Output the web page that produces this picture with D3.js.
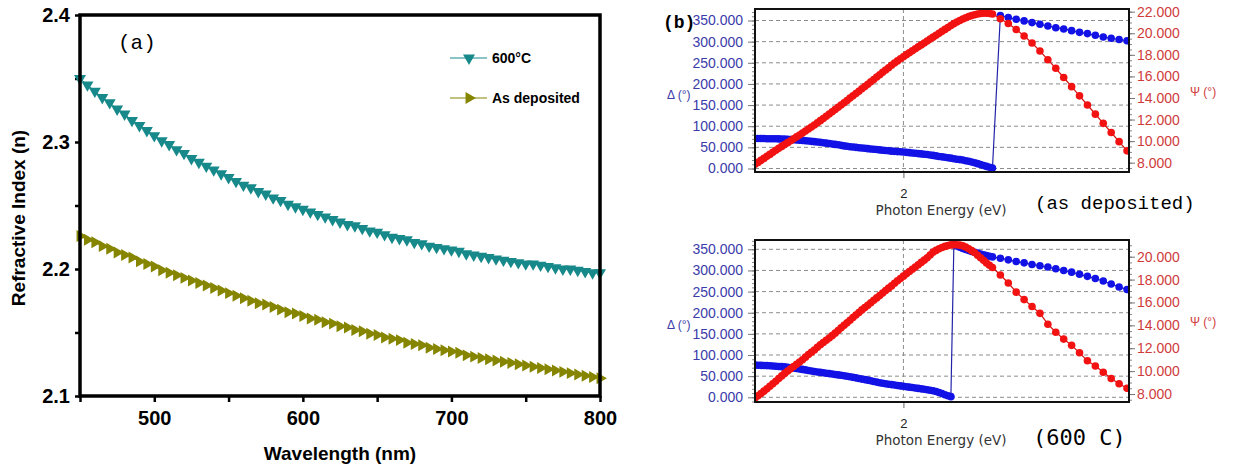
<!DOCTYPE html>
<html>
<head>
<meta charset="utf-8">
<title>Refractive index and ellipsometric spectra</title>
<script src="https://cdn.jsdelivr.net/npm/d3@7/dist/d3.min.js"></script>
<style>
  body { margin: 0; background: #fff; }
  svg { display: block; }
</style>
</head>
<body>
<svg id="figure" width="1233" height="469"></svg>
<script>
// ---- panel (a): refractive index vs wavelength
const wavelength = [450, 455, 460, 465, 470, 475, 480, 485, 490, 495,
    500, 505, 510, 515, 520, 525, 530, 535, 540, 545,
    550, 555, 560, 565, 570, 575, 580, 585, 590, 595,
    600, 605, 610, 615, 620, 625, 630, 635, 640, 645,
    650, 655, 660, 665, 670, 675, 680, 685, 690, 695,
    700, 705, 710, 715, 720, 725, 730, 735, 740, 745,
    750, 755, 760, 765, 770, 775, 780, 785, 790, 795, 800];
const n600 = [2.350, 2.345, 2.340, 2.335, 2.331, 2.326, 2.322, 2.317, 2.313, 2.309,
    2.305, 2.301, 2.298, 2.294, 2.291, 2.287, 2.284, 2.281, 2.278, 2.275,
    2.272, 2.269, 2.266, 2.264, 2.261, 2.259, 2.256, 2.254, 2.251, 2.249,
    2.247, 2.245, 2.243, 2.241, 2.239, 2.237, 2.235, 2.234, 2.232, 2.230,
    2.229, 2.227, 2.225, 2.224, 2.223, 2.221, 2.220, 2.218, 2.217, 2.216,
    2.215, 2.214, 2.212, 2.211, 2.210, 2.209, 2.208, 2.207, 2.206, 2.205,
    2.204, 2.204, 2.203, 2.202, 2.201, 2.200, 2.200, 2.199, 2.198, 2.197, 2.197];
const nAsDeposited = [2.226, 2.223, 2.221, 2.218, 2.216, 2.213, 2.211, 2.209, 2.206, 2.204,
    2.202, 2.199, 2.197, 2.195, 2.193, 2.191, 2.189, 2.187, 2.185, 2.183,
    2.181, 2.179, 2.177, 2.175, 2.173, 2.172, 2.170, 2.168, 2.166, 2.165,
    2.163, 2.161, 2.160, 2.158, 2.157, 2.155, 2.154, 2.152, 2.151, 2.149,
    2.148, 2.146, 2.145, 2.144, 2.142, 2.141, 2.140, 2.138, 2.137, 2.136,
    2.135, 2.134, 2.132, 2.131, 2.130, 2.129, 2.128, 2.127, 2.126, 2.125,
    2.124, 2.123, 2.122, 2.121, 2.120, 2.119, 2.118, 2.117, 2.116, 2.115, 2.114];
const wavelengthTicks = [450, 500, 550, 600, 650, 700, 750, 800];
const indexTicks = [2.1, 2.15, 2.2, 2.25, 2.3, 2.35, 2.4];

// ---- panel (b): ellipsometric angles vs photon energy
const energy = [1.250, 1.265, 1.280, 1.295, 1.310, 1.325, 1.340, 1.355, 1.370, 1.385,
    1.400, 1.415, 1.430, 1.445, 1.460, 1.475, 1.490, 1.505, 1.520, 1.535,
    1.550, 1.565, 1.580, 1.595, 1.610, 1.625, 1.640, 1.655, 1.670, 1.685,
    1.700, 1.715, 1.730, 1.745, 1.760, 1.775, 1.790, 1.805, 1.820, 1.835,
    1.850, 1.865, 1.880, 1.895, 1.910, 1.925, 1.940, 1.955, 1.970, 1.985,
    2.000, 2.015, 2.030, 2.045, 2.060, 2.075, 2.090, 2.105, 2.120, 2.135,
    2.150, 2.165, 2.180, 2.195, 2.210, 2.225, 2.240, 2.255, 2.270, 2.285,
    2.300, 2.315, 2.330, 2.345, 2.360, 2.375, 2.390, 2.405, 2.420, 2.435, 2.450,
    2.49, 2.53, 2.57, 2.61, 2.65, 2.69, 2.73, 2.77, 2.81, 2.85,
    2.89, 2.93, 2.97, 3.01, 3.05, 3.09, 3.13];
const deltaAsDeposited = [71, 71, 71, 70.8, 70.5, 70.5, 70.5, 70.2, 70, 69.8,
    69.5, 69, 68.5, 68, 67.5, 67, 66.5, 65.8, 65, 64.2,
    63.5, 62.8, 62, 61, 60, 59, 58, 57, 56, 54.8,
    53.5, 52.5, 51.5, 50.8, 50, 49.2, 48.5, 47.8, 47, 46.2,
    45.5, 44.8, 44, 43.2, 42.5, 41.8, 41, 40.5, 40, 39.5,
    39, 38.2, 37.5, 36.8, 36, 35.2, 34.5, 33.8, 33, 32,
    31, 29.8, 28.5, 27.5, 26.5, 25.5, 24.5, 23.2, 22, 21,
    20, 18.5, 17, 15.2, 13.5, 11.5, 9.5, 7.2, 5, 3, 1,
    362, 357, 353, 349, 345, 341, 337, 333, 330, 326,
    322, 319, 315, 311, 308, 305, 302];
const psiAsDeposited = [7.85, 8.03, 8.22, 8.40, 8.59, 8.77, 8.96, 9.15, 9.33, 9.51,
    9.68, 9.86, 10.03, 10.21, 10.39, 10.57, 10.75, 10.93, 11.12, 11.31,
    11.50, 11.70, 11.90, 12.10, 12.31, 12.51, 12.72, 12.93, 13.14, 13.35,
    13.56, 13.77, 13.99, 14.20, 14.42, 14.63, 14.85, 15.06, 15.28, 15.50,
    15.72, 15.94, 16.16, 16.38, 16.60, 16.81, 17.03, 17.24, 17.44, 17.64,
    17.83, 18.02, 18.20, 18.38, 18.56, 18.74, 18.92, 19.10, 19.28, 19.46,
    19.64, 19.82, 20.00, 20.18, 20.36, 20.54, 20.72, 20.89, 21.04, 21.19,
    21.32, 21.44, 21.55, 21.64, 21.72, 21.78, 21.83, 21.86, 21.87, 21.84, 21.78,
    21.35, 20.90, 20.35, 19.75, 19.10, 18.35, 17.55, 16.75, 15.90, 15.05,
    14.20, 13.35, 12.50, 11.65, 10.80, 9.95, 9.10];
const delta600 = [76, 75.8, 75.5, 75.2, 75, 74.5, 74, 73.5, 73, 72.5,
    72, 71, 70, 69, 68, 67, 66, 64.8, 63.5, 62.2,
    61, 60, 59, 58, 57, 56, 55, 54, 53, 52,
    51, 49.8, 48.5, 47.2, 46, 44.5, 43, 41.8, 40.5, 39,
    37.5, 36, 34.5, 33.2, 32, 31, 30, 29, 28, 27,
    26, 25, 24, 23, 22, 21, 20, 19, 18, 16.8,
    15.5, 13.8, 11.5, 9, 6, 3.5, 1.5, 361, 358, 355,
    352, 349.5, 347, 345, 343, 341, 339, 337, 335, 333.5, 332,
    329, 325, 321, 318, 314, 311, 308, 304, 300, 296,
    291, 286, 281, 275, 268, 261, 255];
const psi600 = [7.65, 7.85, 8.05, 8.25, 8.45, 8.68, 8.90, 9.12, 9.35, 9.58,
    9.80, 10.00, 10.20, 10.40, 10.60, 10.80, 11.00, 11.22, 11.45, 11.65,
    11.85, 12.08, 12.30, 12.50, 12.70, 12.90, 13.10, 13.32, 13.55, 13.78,
    14.00, 14.22, 14.45, 14.68, 14.90, 15.12, 15.35, 15.55, 15.75, 15.98,
    16.20, 16.40, 16.60, 16.82, 17.05, 17.25, 17.45, 17.68, 17.90, 18.10,
    18.30, 18.50, 18.70, 18.90, 19.10, 19.30, 19.50, 19.70, 19.90, 20.15,
    20.40, 20.55, 20.70, 20.80, 20.90, 20.97, 21.03, 21.05, 21.05, 21.01,
    20.95, 20.84, 20.70, 20.53, 20.35, 20.13, 19.90, 19.68, 19.45, 19.25, 19.05,
    18.40, 17.70, 16.90, 16.25, 15.65, 15.05, 14.10, 13.40, 12.80, 12.25,
    11.60, 10.90, 10.45, 9.90, 9.35, 8.90, 8.50];
const deltaTicks = [0, 50, 100, 150, 200, 250, 300, 350];
const psiTicksTop = [8, 10, 12, 14, 16, 18, 20, 22];
const psiTicksBottom = [8, 10, 12, 14, 16, 18, 20];

const svg = d3.select('#figure');
const sans = '"Liberation Sans", Arial, sans-serif';
const mono = '"Liberation Mono", "Courier New", monospace';

// ================= panel (a) =================
const xA = d3.scaleLinear().domain([450, 800]).range([80, 600]);
const yA = d3.scaleLinear().domain([2.1, 2.4]).range([396, 15]);
const gA = svg.append('g');

const xAxisA = gA.append('g')
    .attr('transform', `translate(0,${yA(2.1)})`)
    .call(d3.axisBottom(xA).tickValues(wavelengthTicks).tickSize(6).tickPadding(9)
        .tickFormat(d => d % 100 === 0 ? d : ''));
const yAxisA = gA.append('g')
    .attr('transform', `translate(${xA(450)},0)`)
    .call(d3.axisLeft(yA).tickValues(indexTicks).tickSize(5).tickPadding(5)
        .tickFormat(d => Math.round(d * 100) % 10 === 0 ? d3.format('.1f')(d) : ''));
[xAxisA, yAxisA].forEach(ax => {
    ax.select('.domain').remove();
    ax.selectAll('line').attr('stroke', '#000').attr('stroke-width', 2.5);
    ax.selectAll('text')
        .attr('font-family', sans).attr('font-weight', 'bold')
        .attr('font-size', 20).attr('fill', '#000');
});

const seriesA = [
    {values: n600, color: '#17898a', rotate: 180, label: '600°C', ly: 58},
    {values: nAsDeposited, color: '#858500', rotate: 90, label: 'As deposited', ly: 98}
];
const lineA = d3.line().x((d, i) => xA(wavelength[i])).y(d => yA(d));
seriesA.forEach(s => {
    gA.append('path')
        .datum(s.values)
        .attr('fill', 'none')
        .attr('stroke', s.color)
        .attr('stroke-width', 1)
        .attr('d', lineA);
    gA.append('g').selectAll('path')
        .data(s.values)
        .join('path')
        .attr('transform', (d, i) => `translate(${xA(wavelength[i])},${yA(d)}) rotate(${s.rotate})`)
        .attr('d', d3.symbol(d3.symbolTriangle, 62))
        .attr('fill', s.color);

    // legend entry
    gA.append('line')
        .attr('x1', 450).attr('x2', 487)
        .attr('y1', s.ly).attr('y2', s.ly)
        .attr('stroke', s.color).attr('stroke-width', 1);
    gA.append('path')
        .attr('transform', `translate(469,${s.ly}) rotate(${s.rotate})`)
        .attr('d', d3.symbol(d3.symbolTriangle, 62))
        .attr('fill', s.color);
    gA.append('text')
        .attr('x', 492).attr('y', s.ly + 5)
        .attr('font-family', sans).attr('font-weight', 'bold').attr('font-size', 14)
        .text(s.label);
});

// frame
gA.append('rect')
    .attr('x', xA(450)).attr('y', yA(2.4))
    .attr('width', xA(800) - xA(450)).attr('height', yA(2.1) - yA(2.4))
    .attr('fill', 'none').attr('stroke', '#000').attr('stroke-width', 3.5);

gA.append('text')
    .attr('x', 118).attr('y', 49)
    .attr('font-family', mono).attr('font-size', 21)
    .text('(a)');
gA.append('text')
    .attr('x', 340).attr('y', 460)
    .attr('text-anchor', 'middle')
    .attr('font-family', sans).attr('font-weight', 'bold').attr('font-size', 19)
    .text('Wavelength (nm)');
gA.append('text')
    .attr('transform', 'translate(25,218) rotate(-90)')
    .attr('text-anchor', 'middle')
    .attr('font-family', sans).attr('font-weight', 'bold').attr('font-size', 19)
    .text('Refractive Index (n)');

// ================= panel (b) =================
const xB = d3.scaleLinear().domain([1.25, 3.14]).range([755, 1129]);
const blue = '#1212e6';
const red = '#f21212';

const drawEllipsometry = (opt) => {
    const g = svg.append('g');
    const [x0, x1] = xB.range();
    const yD = d3.scaleLinear().domain([0, 350]).range([opt.delta0, opt.delta350]);
    const yP = d3.scaleLinear()
        .domain([opt.psiTicks[0], opt.psiTicks[opt.psiTicks.length - 1]])
        .range([opt.psiLow, opt.psiHigh]);
    const inBox = y => y >= opt.top - 0.5 && y <= opt.bottom + 0.5;

    g.append('clipPath').attr('id', 'clip-' + opt.id)
        .append('rect')
        .attr('x', x0).attr('y', opt.top)
        .attr('width', x1 - x0).attr('height', opt.bottom - opt.top);

    // dashed grid
    g.append('g').selectAll('line')
        .data(deltaTicks)
        .join('line')
        .attr('x1', x0).attr('x2', x1)
        .attr('y1', d => yD(d)).attr('y2', d => yD(d))
        .attr('stroke', '#8c8c8c').attr('stroke-dasharray', '4,3');
    g.append('line')
        .attr('x1', xB(2)).attr('x2', xB(2))
        .attr('y1', opt.top).attr('y2', opt.bottom)
        .attr('stroke', '#8c8c8c').attr('stroke-dasharray', '4,3');

    // left axis (Delta)
    const minorD = d3.range(-20, 400, 10).filter(d => inBox(yD(d)));
    g.append('g').attr('transform', `translate(${x0},0)`)
        .call(d3.axisLeft(yD).tickValues(minorD).tickSize(3).tickFormat(''))
        .call(ax => ax.select('.domain').remove())
        .call(ax => ax.selectAll('line').attr('stroke', '#888'));
    g.append('g').attr('transform', `translate(${x0},0)`)
        .call(d3.axisLeft(yD).tickValues(deltaTicks).tickSize(7).tickPadding(5).tickFormat(d3.format('.3f')))
        .call(ax => ax.select('.domain').remove())
        .call(ax => ax.selectAll('line').attr('stroke', '#777'))
        .call(ax => ax.selectAll('text')
            .attr('font-family', sans).attr('font-size', 14).attr('fill', '#3b3baa'));

    // right axis (Psi)
    const lo = opt.psiTicks[0] - 1.5, hi = opt.psiTicks[opt.psiTicks.length - 1] + 1.5;
    const minorP = d3.range(lo, hi, 0.5).filter(d => inBox(yP(d)));
    g.append('g').attr('transform', `translate(${x1},0)`)
        .call(d3.axisRight(yP).tickValues(minorP).tickSize(3).tickFormat(''))
        .call(ax => ax.select('.domain').remove())
        .call(ax => ax.selectAll('line').attr('stroke', '#888'));
    g.append('g').attr('transform', `translate(${x1},0)`)
        .call(d3.axisRight(yP).tickValues(opt.psiTicks).tickSize(6).tickPadding(2).tickFormat(d3.format('.3f')))
        .call(ax => ax.select('.domain').remove())
        .call(ax => ax.selectAll('line').attr('stroke', '#777'))
        .call(ax => ax.selectAll('text')
            .attr('font-family', sans).attr('font-size', 14).attr('fill', '#cf3b3b'));

    // bottom axis (energy)
    g.append('g').attr('transform', `translate(0,${opt.bottom})`)
        .call(d3.axisBottom(xB).tickValues([2]).tickSize(6).tickPadding(11).tickFormat(d3.format('d')))
        .call(ax => ax.select('.domain').remove())
        .call(ax => ax.selectAll('line').attr('stroke', '#666'))
        .call(ax => ax.selectAll('text')
            .attr('font-family', sans).attr('font-size', 13).attr('fill', '#222'));

    // data
    const plot = g.append('g').attr('clip-path', `url(#clip-${opt.id})`);
    [{values: opt.delta, y: yD, color: blue, stroke: '#2323a8'},
     {values: opt.psi, y: yP, color: red, stroke: '#d01010'}].forEach(s => {
        plot.append('path')
            .datum(s.values)
            .attr('fill', 'none')
            .attr('stroke', s.stroke)
            .attr('stroke-width', 1.2)
            .attr('d', d3.line().x((d, i) => xB(energy[i])).y(d => s.y(d)));
        plot.append('g').selectAll('circle')
            .data(s.values)
            .join('circle')
            .attr('cx', (d, i) => xB(energy[i]))
            .attr('cy', d => s.y(d))
            .attr('r', 3.8)
            .attr('fill', s.color);
    });

    // frame
    g.append('rect')
        .attr('x', x0).attr('y', opt.top)
        .attr('width', x1 - x0).attr('height', opt.bottom - opt.top)
        .attr('fill', 'none').attr('stroke', '#111').attr('stroke-width', 2);

    // axis titles
    g.append('text')
        .attr('x', 667).attr('y', opt.labelY)
        .attr('font-family', sans).attr('font-size', 12).attr('fill', '#3b3baa')
        .text('Δ (°)');
    g.append('text')
        .attr('x', 1190).attr('y', opt.labelY - 3)
        .attr('font-family', sans).attr('font-size', 12).attr('fill', '#cf3b3b')
        .text('Ψ (°)');
    g.append('text')
        .attr('x', 941).attr('y', opt.bottom + 43)
        .attr('text-anchor', 'middle')
        .attr('font-family', '"DejaVu Sans", Tahoma, sans-serif').attr('font-size', 13.5).attr('fill', '#333')
        .text('Photon Energy (eV)');
    g.append('text')
        .attr('x', opt.captionX).attr('y', opt.captionY)
        .attr('font-family', opt.captionFont).attr('font-size', opt.captionSize).attr('fill', '#000')
        .text(opt.caption);
};

drawEllipsometry({
    id: 'top', top: 9, bottom: 172,
    delta0: 168.5, delta350: 20.5,
    psiTicks: psiTicksTop, psiLow: 162.7, psiHigh: 11.7,
    delta: deltaAsDeposited, psi: psiAsDeposited,
    labelY: 99,
    caption: '(as deposited)', captionX: 1035, captionY: 209, captionFont: mono, captionSize: 19
});
drawEllipsometry({
    id: 'bottom', top: 240, bottom: 402,
    delta0: 397.3, delta350: 249.3,
    psiTicks: psiTicksBottom, psiLow: 394, psiHigh: 256.7,
    delta: delta600, psi: psi600,
    labelY: 329,
    caption: '(600 C)', captionX: 1033, captionY: 445, captionFont: '"DejaVu Sans Mono", monospace', captionSize: 22
});

svg.append('text')
    .attr('x', 663).attr('y', 28)
    .attr('font-family', mono).attr('font-weight', 'bold').attr('font-size', 18)
    .text('(b)');
</script>
</body>
</html>
